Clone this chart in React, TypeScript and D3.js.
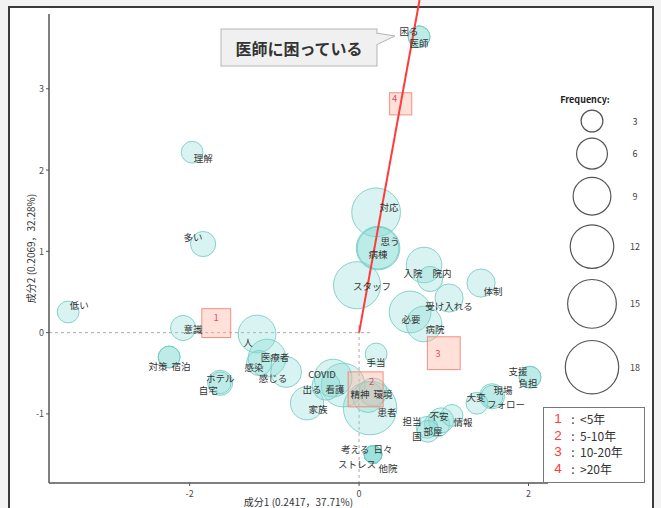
import React from "react";
import * as d3 from "d3";

const WIDTH = 661;
const HEIGHT = 508;
const FONT = "'Noto Sans CJK JP', 'Noto Sans', sans-serif";
const DIGIT_FONT = "'Liberation Sans', Arial, sans-serif";

// Word coordinates on the two components, with their frequencies
const words = [
  { w: "困る", d1: 0.708, d2: 3.64, n: 3 },
  { w: "医師", d1: 0.708, d2: 3.64, n: 3 },
  { w: "理解", d1: -1.97, d2: 2.22, n: 3 },
  { w: "多い", d1: -1.841, d2: 1.09, n: 4 },
  { w: "低い", d1: -3.434, d2: 0.254, n: 3 },
  { w: "意識", d1: -2.077, d2: 0.057, n: 4 },
  { w: "人", d1: -1.204, d2: -0.017, n: 9 },
  { w: "対策", d1: -2.242, d2: -0.3, n: 3 },
  { w: "宿泊", d1: -2.242, d2: -0.3, n: 3 },
  { w: "ホテル", d1: -1.64, d2: -0.618, n: 4 },
  { w: "自宅", d1: -1.64, d2: -0.618, n: 3 },
  { w: "医療者", d1: -1.086, d2: -0.313, n: 9 },
  { w: "感染", d1: -1.18, d2: -0.374, n: 4 },
  { w: "感じる", d1: -0.861, d2: -0.485, n: 6 },
  { w: "COVID", d1: -0.307, d2: -0.559, n: 9 },
  { w: "出る", d1: -0.389, d2: -0.657, n: 5 },
  { w: "看護", d1: -0.189, d2: -0.645, n: 12 },
  { w: "家族", d1: -0.614, d2: -0.869, n: 7 },
  { w: "手当", d1: 0.201, d2: -0.263, n: 3 },
  { w: "精神", d1: 0.106, d2: -0.793, n: 6 },
  { w: "環境", d1: 0.165, d2: -0.731, n: 5 },
  { w: "患者", d1: 0.13, d2: -0.929, n: 18 },
  { w: "考える", d1: 0.165, d2: -1.5, n: 2 },
  { w: "日々", d1: 0.165, d2: -1.5, n: 2 },
  { w: "ストレス", d1: 0.165, d2: -1.5, n: 2 },
  { w: "他院", d1: 0.165, d2: -1.5, n: 2 },
  { w: "対応", d1: 0.201, d2: 1.48, n: 15 },
  { w: "思う", d1: 0.224, d2: 1.04, n: 12 },
  { w: "病棟", d1: 0.224, d2: 1.04, n: 11 },
  { w: "スタッフ", d1: -0.024, d2: 0.583, n: 14 },
  { w: "入院", d1: 0.767, d2: 0.832, n: 8 },
  { w: "院内", d1: 0.838, d2: 0.66, n: 4 },
  { w: "体制", d1: 1.44, d2: 0.61, n: 5 },
  { w: "受け入れる", d1: 1.062, d2: 0.426, n: 5 },
  { w: "必要", d1: 0.602, d2: 0.254, n: 11 },
  { w: "病院", d1: 0.767, d2: 0.106, n: 8 },
  { w: "担当", d1: 0.802, d2: -1.165, n: 3 },
  { w: "国", d1: 0.814, d2: -1.214, n: 3 },
  { w: "部屋", d1: 0.92, d2: -1.128, n: 4 },
  { w: "不安", d1: 0.968, d2: -1.08, n: 4 },
  { w: "情報", d1: 1.097, d2: -1.018, n: 3 },
  { w: "大変", d1: 1.392, d2: -0.869, n: 3 },
  { w: "現場", d1: 1.569, d2: -0.783, n: 4 },
  { w: "フォロー", d1: 1.569, d2: -0.783, n: 3 },
  { w: "支援", d1: 2.018, d2: -0.548, n: 3 },
  { w: "負担", d1: 2.018, d2: -0.548, n: 3 },
];

// Years-of-experience groups (external variable)
const groups = [
  { id: "1", d1: -1.686, d2: 0.117, n: 17 },
  { id: "2", d1: 0.077, d2: -0.698, n: 25 },
  { id: "3", d1: 1.0, d2: -0.253, n: 22 },
  { id: "4", d1: 0.491, d2: 2.815, n: 10 },
];
const groupNames = ["<5年", "5-10年", "10-20年", ">20年"];

const freqBreaks = [3, 6, 9, 12, 15, 18];
const xTicks = [-2, 0, 2];
const yTicks = [-1, 0, 1, 2, 3];
const xTitle = "成分1 (0.2417，37.71%)";
const yTitle = "成分2 (0.2069，32.28%)";
const calloutText = "医師に困っている";

// Label nudges (pixels) keeping overlapping words readable
const labelNudge: Record<string, [number, number]> = {
  困る: [-10, -6], 医師: [0, 6], 理解: [11, 6], 多い: [-10, -7], 低い: [11, -7],
  意識: [10, 1], 人: [-9, 8], 対策: [-11, 9], 宿泊: [12, 9], ホテル: [0, -5],
  自宅: [-12, 7], 医療者: [8, -1], 感染: [-5, 4], 感じる: [-13, 6], COVID: [-11, -4],
  出る: [-14, 3], 看護: [-8, 4], 家族: [11, 6], 手当: [0, 8], 精神: [-8, -3],
  環境: [10, 2], 患者: [17, 4], 考える: [-18, -6], 日々: [10, -6], ストレス: [-16, 9],
  他院: [15, 13], 対応: [13, -5], 思う: [12, -7], 病棟: [0, 6], スタッフ: [15, 1],
  入院: [-11, 8], 院内: [12, -6], 体制: [12, 8], 受け入れる: [0, 8], 必要: [1, 7],
  病院: [11, 5], 担当: [-15, -6], 国: [-11, 5], 部屋: [-4, 7], 不安: [-2, -4],
  情報: [11, 7], 大変: [-1, -6], 現場: [11, -6], フォロー: [14, 8], 支援: [-12, -6],
  負担: [-2, 6],
};
const groupNudge: Record<string, [number, number]> = {
  "1": [0, -6], "2": [6, -8], "3": [-6, 0], "4": [-6, -6],
};

const plot = { left: 49, right: 548, top: 14, bottom: 483 };

export default function App() {
  const x = d3.scaleLinear().domain([-3.66, 2.23]).range([plot.left, plot.right]);
  const y = d3.scaleLinear().domain([-1.85, 3.92]).range([plot.bottom, plot.top]);
  const r = d3.scaleSqrt().domain([0, 18]).range([0, 26.7]);
  const side = d3.scaleSqrt().domain([0, 25]).range([0, 35]);

  const sortedWords = [...words].sort((a, b) => b.n - a.n);

  // direction line from origin through group 4, extended to the top edge
  const g4 = groups[3];
  const yTop = y.invert(0);
  const lineEnd = { d1: (g4.d1 / g4.d2) * yTop, d2: yTop };

  // frequency legend layout
  const legendCx = 592;
  const legendYs: number[] = [];
  freqBreaks.forEach((f, i) => {
    if (i === 0) legendYs.push(121);
    else legendYs.push(legendYs[i - 1] + 1.24 * (r(freqBreaks[i - 1]) + r(f)));
  });

  const rowY = (i: number) => 418.5 + i * 16.5;

  return (
    <svg
      width={WIDTH}
      height={HEIGHT}
      style={{ position: "absolute", left: 0, top: 0, fontFamily: FONT }}
    >
      <rect x={0} y={0} width={WIDTH} height={HEIGHT} fill="#f3f3f3" />
      <rect x={9} y={7} width={644} height={520} fill="#ffffff" stroke="#3a3a3a" strokeWidth={2} />

      {/* reference lines through the origin */}
      <line
        x1={plot.left} x2={372} y1={y(0)} y2={y(0)}
        stroke="#aaaaaa" strokeWidth={1} strokeDasharray="3,3"
      />
      <line
        x1={x(0)} x2={x(0)} y1={325} y2={plot.bottom}
        stroke="#aaaaaa" strokeWidth={1} strokeDasharray="3,3"
      />

      {/* word bubbles */}
      {sortedWords.map((d) => (
        <circle
          key={d.w}
          cx={x(d.d1)}
          cy={y(d.d2)}
          r={r(d.n)}
          fill="#86d9d2"
          fillOpacity={0.32}
          stroke="#74cbc4"
          strokeOpacity={0.85}
          strokeWidth={1}
        />
      ))}

      {/* group squares */}
      {groups.map((g) => {
        const s = side(g.n);
        return (
          <rect
            key={g.id}
            x={x(g.d1) - s / 2}
            y={y(g.d2) - s / 2}
            width={s}
            height={s}
            fill="#ffb3a3"
            fillOpacity={0.4}
            stroke="#f27f6e"
            strokeOpacity={0.85}
            strokeWidth={1}
          />
        );
      })}

      <line
        x1={x(0)} y1={y(0)} x2={x(lineEnd.d1)} y2={y(lineEnd.d2)}
        stroke="#ff3b3b" strokeWidth={2}
      />

      {/* word labels */}
      {words.map((d) => {
        const [dx, dy] = labelNudge[d.w] || [0, 0];
        return (
          <text
            key={d.w}
            x={x(d.d1) + dx}
            y={y(d.d2) + dy}
            textAnchor="middle"
            dominantBaseline="central"
            fontSize={9.5}
            fill="#333333"
          >
            {d.w}
          </text>
        );
      })}
      {groups.map((g) => {
        const [dx, dy] = groupNudge[g.id];
        return (
          <text
            key={g.id}
            x={x(g.d1) + dx}
            y={y(g.d2) + dy}
            textAnchor="middle"
            dominantBaseline="central"
            fontSize={9.5}
            fill="#e0506a"
          >
            {g.id}
          </text>
        );
      })}

      {/* axes */}
      <line x1={plot.left} x2={plot.left} y1={plot.top} y2={plot.bottom} stroke="#555" strokeWidth={1.5} />
      <line x1={plot.left} x2={plot.right} y1={plot.bottom} y2={plot.bottom} stroke="#555" strokeWidth={1.5} />
      {yTicks.map((t) => (
        <g key={t}>
          <line x1={plot.left - 3} x2={plot.left} y1={y(t)} y2={y(t)} stroke="#555" />
          <text x={plot.left - 5} y={y(t)} textAnchor="end" dominantBaseline="central" fontSize={9} fill="#4d4d4d">
            {t}
          </text>
        </g>
      ))}
      {xTicks.map((t) => (
        <g key={t}>
          <line x1={x(t)} x2={x(t)} y1={plot.bottom} y2={plot.bottom + 3} stroke="#555" />
          <text x={x(t)} y={plot.bottom + 10} textAnchor="middle" dominantBaseline="central" fontSize={9} fill="#4d4d4d">
            {t}
          </text>
        </g>
      ))}
      <text
        x={(plot.left + plot.right) / 2}
        y={501}
        textAnchor="middle"
        dominantBaseline="central"
        fontSize={10}
        fill="#333"
      >
        {xTitle}
      </text>
      <text
        transform={`translate(30, ${(plot.top + plot.bottom) / 2}) rotate(-90)`}
        textAnchor="middle"
        dominantBaseline="central"
        fontSize={10}
        fill="#333"
      >
        {yTitle}
      </text>

      {/* callout */}
      <polygon points="376,33 395,36 376,45" fill="#f0f0f0" stroke="#b5b5b5" strokeWidth={1} />
      <rect x={221} y={29} width={156} height={37} fill="#f0f0f0" stroke="#b5b5b5" strokeWidth={1} />
      <rect x={376} y={34} width={2} height={10} fill="#f0f0f0" />
      <text
        x={299}
        y={48}
        textAnchor="middle"
        dominantBaseline="central"
        fontSize={16}
        fontWeight="bold"
        fill="#333"
      >
        {calloutText}
      </text>

      {/* frequency legend */}
      <text x={585} y={99} textAnchor="middle" dominantBaseline="central" fontSize={9} fontWeight="bold" fill="#222">
        Frequency:
      </text>
      {freqBreaks.map((f, i) => (
        <g key={f}>
          <circle cx={legendCx} cy={legendYs[i]} r={r(f)} fill="none" stroke="#555" strokeWidth={1.2} />
          <text x={635} y={legendYs[i]} textAnchor="middle" dominantBaseline="central" fontSize={9} fill="#444">
            {f}
          </text>
        </g>
      ))}

      {/* group legend */}
      <rect x={543.5} y={407.5} width={101} height={75} fill="#ffffff" stroke="#777" strokeWidth={1} />
      {groupNames.map((name, i) => (
        <g key={name}>
          <text
            x={558}
            y={rowY(i)}
            textAnchor="middle"
            dominantBaseline="central"
            fontSize={13.5}
            fontFamily={DIGIT_FONT}
            fill="#ff3b3b"
          >
            {groups[i].id}
          </text>
          <text x={573} y={rowY(i)} textAnchor="middle" dominantBaseline="central" fontSize={12} fill="#333">
            :
          </text>
          <text x={580} y={rowY(i)} dominantBaseline="central" fontSize={12} fill="#333">
            {name}
          </text>
        </g>
      ))}
    </svg>
  );
}
